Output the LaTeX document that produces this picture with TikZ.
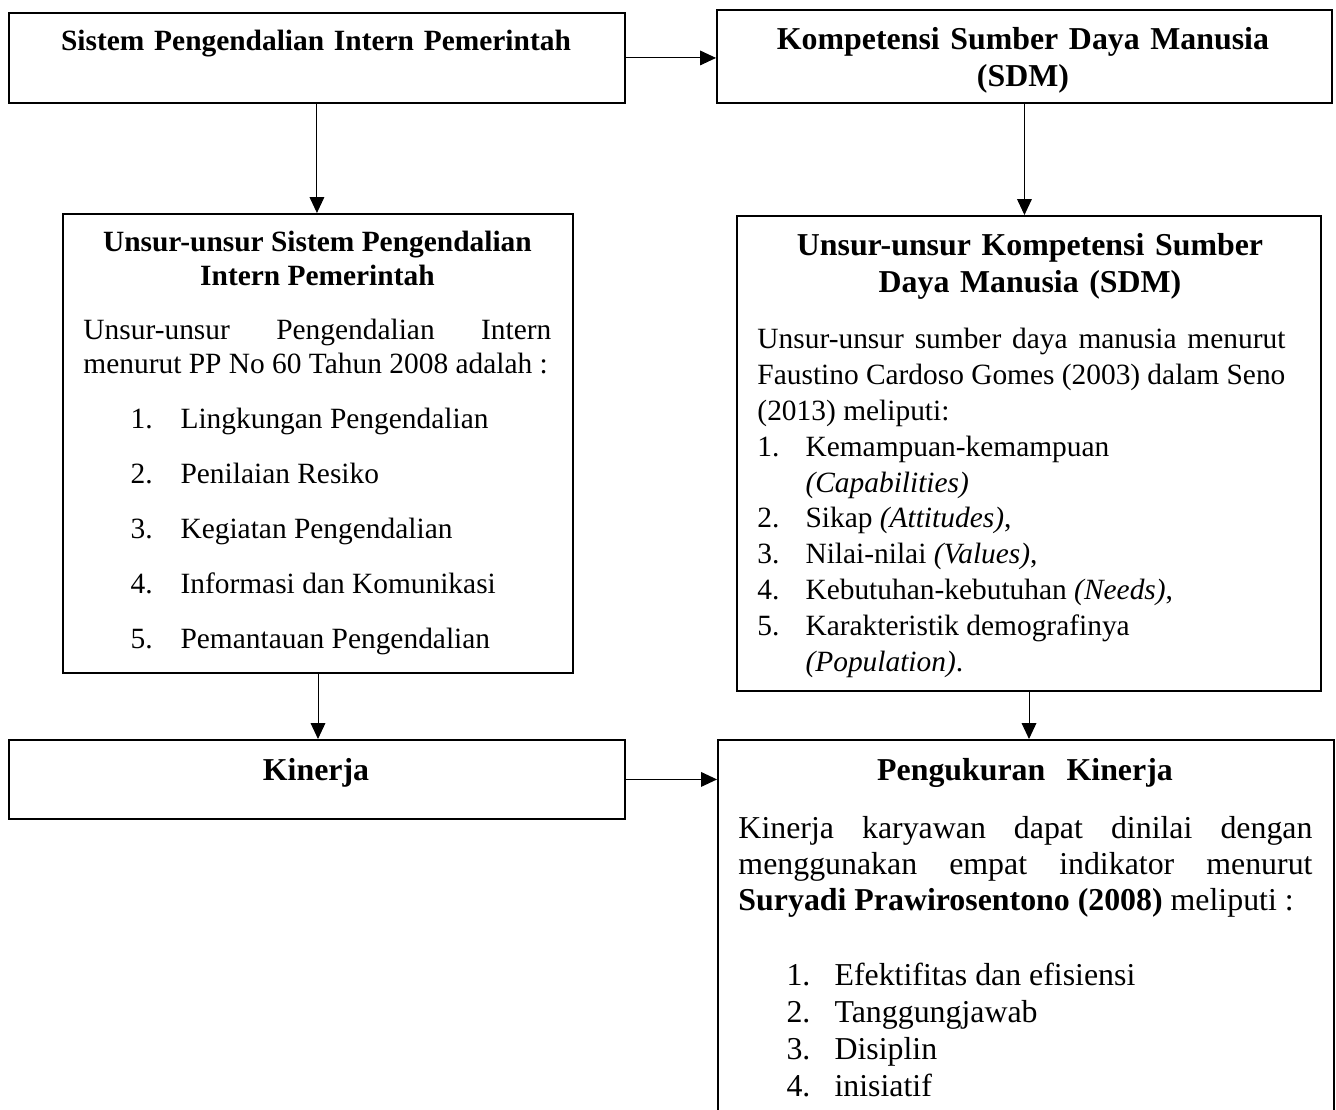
\documentclass[tikz,border=0pt]{standalone}
\usepackage{fontspec}
\setmainfont{Liberation Serif}
\usetikzlibrary{arrows.meta}
\tolerance=9999
\hyphenpenalty=10000
\exhyphenpenalty=10000

\begin{document}
\begin{tikzpicture}[x=0.408pt, y=-0.408pt,
    kotak/.style={draw, line width=0.8pt, anchor=north west, inner sep=0pt},
    panah/.style={line width=0.4pt, -{Triangle[length=6.5pt, width=6pt]}},
    judul/.style={inner sep=0pt, anchor=base, align=center, text width=240pt,
        font=\fontsize{13}{14.7}\selectfont\bfseries},
    isi/.style={inner sep=0pt, anchor=base west, align=justify}]
    \useasboundingbox (0,0) rectangle (1336,1110);

    % kotak
    \node[kotak, minimum width=251.3pt, minimum height=36.7pt] (spip) at (8,12) {};
    \node[kotak, minimum width=250.9pt, minimum height=37.9pt] (sdm) at (716,9) {};
    \node[kotak, minimum width=208.1pt, minimum height=187.3pt] (unsurspip) at (62,213) {};
    \node[kotak, minimum width=238.3pt, minimum height=193.8pt] (unsursdm) at (736,215) {};
    \node[kotak, minimum width=251.3pt, minimum height=32.2pt] (kinerja) at (8,739) {};
    \node[kotak, minimum width=251.3pt, minimum height=183.6pt] (ukur) at (717,739) {};

    % judul
    \node[judul, font=\fontsize{12}{13.5}\selectfont\bfseries] (judulspip) at (316,51) {Sistem Pengendalian Intern Pemerintah};
    \node[judul] (judulsdm) at (1023,50) {Kompetensi Sumber Daya Manusia\\ (SDM)};
    \node[judul] (judulunsursdm) at (1030,256) {Unsur-unsur Kompetensi Sumber\\ Daya Manusia (SDM)};
    \node[judul] (judulkinerja) at (316,780) {Kinerja};
    \node[judul] (judulukur) at (1025,780) {Pengukuran\ \ Kinerja};

    % isi
    \node[isi, text width=190.9pt, font=\fontsize{12}{13.5}\selectfont] (isispip) at (83,252) {%
        {\centering\bfseries Unsur-unsur Sistem Pengendalian\\ Intern Pemerintah\par}
        \vspace{8.9pt}
        Unsur-unsur Pengendalian Intern\linebreak menurut PP No 60 Tahun 2008 adalah :\par
        \fontsize{12}{22.5}\selectfont
        \hspace*{19.2pt}\makebox[20.4pt][l]{1.}Lingkungan Pengendalian\par
        \hspace*{19.2pt}\makebox[20.4pt][l]{2.}Penilaian Resiko\par
        \hspace*{19.2pt}\makebox[20.4pt][l]{3.}Kegiatan Pengendalian\par
        \hspace*{19.2pt}\makebox[20.4pt][l]{4.}Informasi dan Komunikasi\par
        \hspace*{19.2pt}\makebox[20.4pt][l]{5.}Pemantauan Pengendalian\par};
    \node[isi, text width=215.4pt, font=\fontsize{12}{14.6}\selectfont] (isisdm) at (757,349) {%
        Unsur-unsur sumber daya manusia menurut\linebreak Faustino Cardoso Gomes (2003) dalam Seno\linebreak (2013) meliputi:\par
        \makebox[19.6pt][l]{1.}Kemampuan-kemampuan\par
        \hspace*{19.6pt}\textit{(Capabilities)}\par
        \makebox[19.6pt][l]{2.}Sikap \textit{(Attitudes)},\par
        \makebox[19.6pt][l]{3.}Nilai-nilai \textit{(Values)},\par
        \makebox[19.6pt][l]{4.}Kebutuhan-kebutuhan \textit{(Needs)},\par
        \makebox[19.6pt][l]{5.}Karakteristik demografinya\par
        \hspace*{19.6pt}\textit{(Population)}.\par};
    \node[isi, text width=234.2pt, font=\fontsize{13}{14.7}\selectfont] (isiukur) at (738,838) {%
        Kinerja karyawan dapat dinilai dengan\linebreak menggunakan empat indikator menurut\linebreak \textbf{Suryadi Prawirosentono (2008)} meliputi :\par
        \vspace{15.9pt}
        \fontsize{13}{15}\selectfont
        \hspace*{19.6pt}\makebox[19.6pt][l]{1.}Efektifitas dan efisiensi\par
        \hspace*{19.6pt}\makebox[19.6pt][l]{2.}Tanggungjawab\par
        \hspace*{19.6pt}\makebox[19.6pt][l]{3.}Disiplin\par
        \hspace*{19.6pt}\makebox[19.6pt][l]{4.}inisiatif\par};

    % panah
    \draw[panah] (spip.east) -- (spip.east -| sdm.west);
    \draw[panah] (spip.south) -- (spip.south |- unsurspip.north);
    \draw[panah] (sdm.south) -- (sdm.south |- unsursdm.north);
    \draw[panah] (unsurspip.south) -- (unsurspip.south |- kinerja.north);
    \draw[panah] (unsursdm.south) -- (unsursdm.south |- ukur.north);
    \draw[panah] (kinerja.east) -- (kinerja.east -| ukur.west);
\end{tikzpicture}
\end{document}
